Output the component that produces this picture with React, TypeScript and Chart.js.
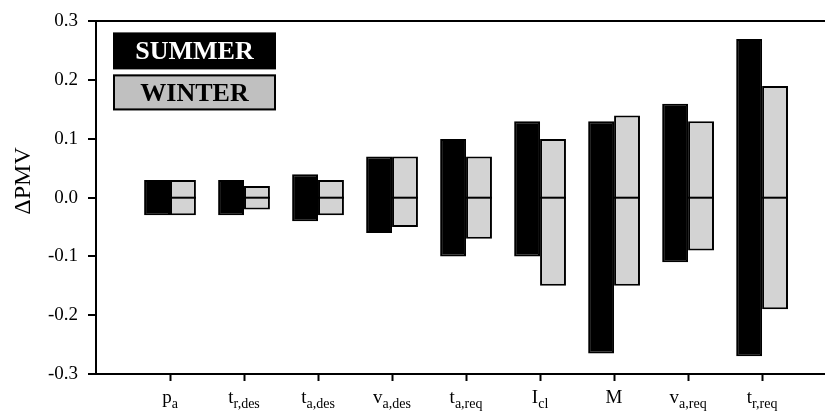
import React, { useEffect, useRef } from 'react';
import { Chart, registerables } from 'chart.js';

Chart.register(...registerables);

const categories = ['p', 't', 't', 'v', 't', 'I', 'M', 'v', 't'];
const subscripts = ['a', 'r,des', 'a,des', 'a,des', 'a,req', 'cl', '', 'a,req', 'r,req'];
const summerHigh = [0.03, 0.03, 0.04, 0.07, 0.1, 0.13, 0.13, 0.16, 0.27];
const summerLow = [-0.03, -0.03, -0.04, -0.06, -0.1, -0.1, -0.265, -0.11, -0.27];
const winterHigh = [0.03, 0.02, 0.03, 0.07, 0.07, 0.1, 0.14, 0.13, 0.19];
const winterLow = [-0.03, -0.02, -0.03, -0.05, -0.07, -0.15, -0.15, -0.09, -0.19];
const yTicks = [-0.3, -0.2, -0.1, 0, 0.1, 0.2, 0.3];
const seriesNames = ['SUMMER', 'WINTER'];

const SERIF = '"Liberation Serif", "Times New Roman", serif';

const overlayPlugin = {
  id: 'overlay',
  afterDatasetsDraw(chart: any) {
    const ctx = chart.ctx;
    const y = chart.scales.y;
    const x = chart.scales.x;
    const area = chart.chartArea;
    // zero line across winter bars
    const meta = chart.getDatasetMeta(1);
    const y0 = y.getPixelForValue(0);
    ctx.save();
    ctx.strokeStyle = '#000';
    ctx.lineWidth = 2;
    meta.data.forEach((el: any) => {
      const p = el.getProps(['x', 'width'], true);
      ctx.beginPath();
      ctx.moveTo(p.x - p.width / 2, y0);
      ctx.lineTo(p.x + p.width / 2, y0);
      ctx.stroke();
    });
    ctx.restore();

    // category labels with subscripts
    ctx.save();
    ctx.fillStyle = '#000';
    ctx.textBaseline = 'alphabetic';
    ctx.textAlign = 'left';
    const mainFont = `19px ${SERIF}`;
    const subFont = `14px ${SERIF}`;
    categories.forEach((c, i) => {
      const px = x.getPixelForValue(i + 1);
      ctx.font = mainFont;
      const w1 = ctx.measureText(c).width;
      ctx.font = subFont;
      const w2 = subscripts[i] ? ctx.measureText(subscripts[i]).width : 0;
      const start = px - (w1 + w2) / 2;
      ctx.font = mainFont;
      ctx.fillText(c, start, area.bottom + 29);
      if (subscripts[i]) {
        ctx.font = subFont;
        ctx.fillText(subscripts[i], start + w1, area.bottom + 34);
      }
    });

    // y axis title
    ctx.save();
    ctx.translate(24, 181);
    ctx.rotate(-Math.PI / 2);
    ctx.font = `24px ${SERIF}`;
    ctx.textAlign = 'center';
    ctx.textBaseline = 'middle';
    ctx.fillText('\u0394PMV', 0, 0);
    ctx.restore();

    // legend boxes
    const lx = area.left + 17;
    const lw = 163;
    ctx.fillStyle = '#000';
    ctx.fillRect(lx, area.top + 11, lw, 37);
    ctx.fillStyle = '#c0c0c0';
    ctx.fillRect(lx, area.top + 53, lw, 36);
    ctx.strokeStyle = '#000';
    ctx.lineWidth = 2;
    ctx.strokeRect(lx + 1, area.top + 54, lw - 2, 34);
    ctx.font = `bold 26px ${SERIF}`;
    ctx.textAlign = 'center';
    ctx.textBaseline = 'middle';
    ctx.fillStyle = '#fff';
    ctx.fillText(seriesNames[0], lx + lw / 2, area.top + 31);
    ctx.fillStyle = '#000';
    ctx.fillText(seriesNames[1], lx + lw / 2, area.top + 73);
    ctx.restore();
  },
};

export default function App() {
  const ref = useRef<HTMLCanvasElement>(null);
  useEffect(() => {
    if (!ref.current) return;
    const chart = new Chart(ref.current, {
      type: 'bar',
      data: {
        datasets: [
          {
            label: seriesNames[0],
            data: categories.map((_, i) => ({ x: i + 1, y: [summerLow[i], summerHigh[i]] })) as any,
            backgroundColor: '#000',
            borderColor: '#000',
            borderWidth: 2,
            borderSkipped: false,
          },
          {
            label: seriesNames[1],
            data: categories.map((_, i) => ({ x: i + 1, y: [winterLow[i], winterHigh[i]] })) as any,
            backgroundColor: '#d3d3d3',
            borderColor: '#000',
            borderWidth: 2,
            borderSkipped: false,
          },
        ],
      },
      options: {
        responsive: false,
        animation: false,
        devicePixelRatio: 1,
        categoryPercentage: 0.7,
        barPercentage: 1,
        layout: { padding: { top: 19, left: 0, right: 0, bottom: 0 } },
        plugins: { legend: { display: false }, tooltip: { enabled: false } },
        scales: {
          x: {
            type: 'linear',
            min: 0,
            max: 9.85,
            offset: false,
            afterBuildTicks: (s: any) => {
              s.ticks = categories.map((_, i) => ({ value: i + 1 }));
            },
            afterFit: (s: any) => {
              s.height = 40;
            },
            grid: { offset: false, drawOnChartArea: false, drawTicks: true, tickLength: 7, tickColor: '#000', tickWidth: 2 },
            border: { display: true, color: '#000', width: 2 },
            ticks: { display: false },
          },
          y: {
            type: 'linear',
            min: -0.3,
            max: 0.3,
            afterBuildTicks: (s: any) => {
              s.ticks = yTicks.map((v) => ({ value: v }));
            },
            afterFit: (s: any) => {
              s.width = 96;
            },
            grid: {
              drawOnChartArea: true,
              color: (c: any) => (c.tick && Math.abs(c.tick.value - 0.3) < 1e-9 ? '#000' : 'rgba(0,0,0,0)'),
              lineWidth: 2,
              tickLength: 8,
              tickColor: '#000',
              tickWidth: 2,
            },
            border: { display: true, color: '#000', width: 2 },
            ticks: {
              color: '#000',
              padding: 10,
              font: { family: SERIF, size: 19 },
              callback: (v: any) => Number(v).toFixed(1),
            },
          },
        },
      },
      plugins: [overlayPlugin],
    });
    return () => chart.destroy();
  }, []);
  return (
    <div style={{ position: 'fixed', left: 0, top: 0, width: 825, height: 414, background: '#fff' }}>
      <canvas ref={ref} width={825} height={414} style={{ display: 'block' }} />
    </div>
  );
}
